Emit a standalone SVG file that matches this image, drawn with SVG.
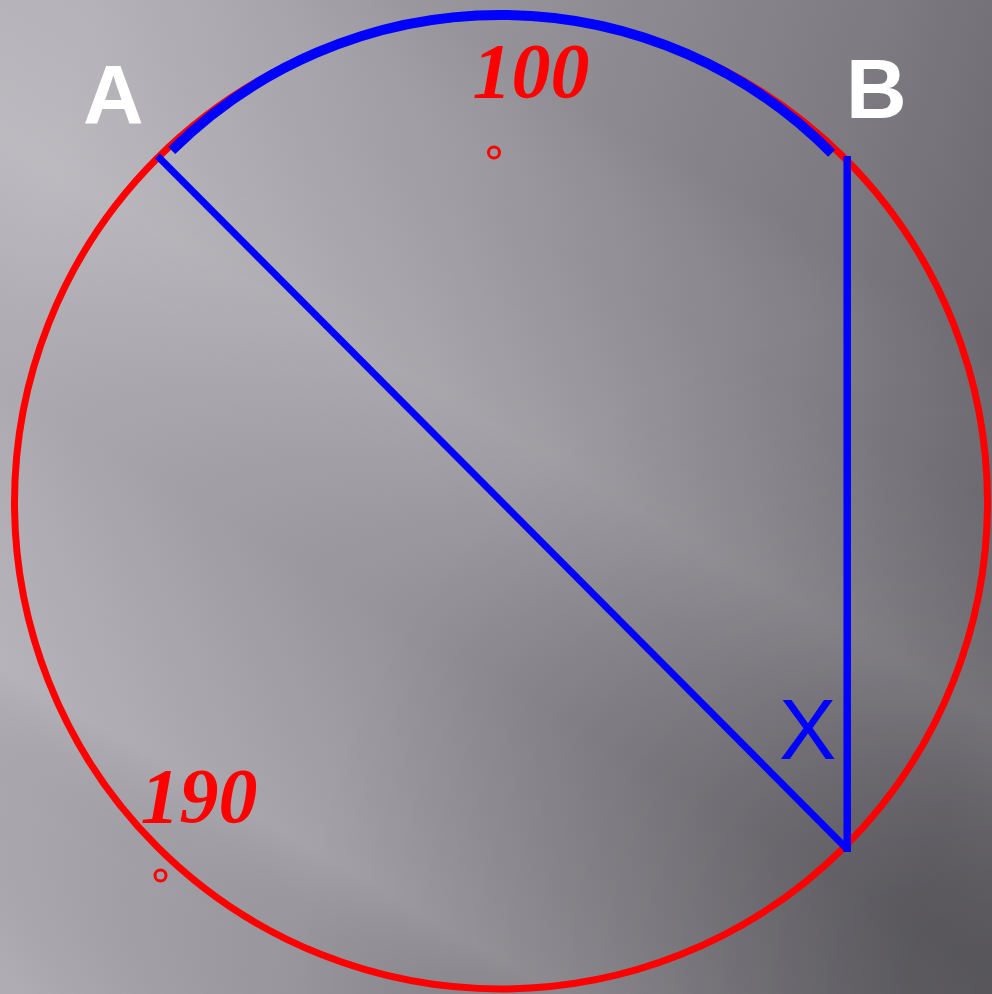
<svg xmlns="http://www.w3.org/2000/svg" width="992" height="994" viewBox="0 0 992 994">
  <defs>
    <linearGradient id="bg" gradientUnits="userSpaceOnUse" x1="0" y1="380" x2="992" y2="620">
      <stop offset="0" stop-color="#b2b0b6"/>
      <stop offset="0.4" stop-color="#9c9aa0"/>
      <stop offset="0.75" stop-color="#838187"/>
      <stop offset="1" stop-color="#6c6a70"/>
    </linearGradient>
    <radialGradient id="shade" gradientUnits="userSpaceOnUse" cx="992" cy="994" r="700">
      <stop offset="0" stop-color="#000000" stop-opacity="0.18"/>
      <stop offset="1" stop-color="#000000" stop-opacity="0"/>
    </radialGradient>
    <linearGradient id="streak" gradientUnits="userSpaceOnUse" x1="992" y1="0" x2="316" y2="1162">
      <stop offset="0" stop-color="#000000" stop-opacity="0.04"/>
      <stop offset="0.22" stop-color="#000000" stop-opacity="0.05"/>
      <stop offset="0.32" stop-color="#ffffff" stop-opacity="0.02"/>
      <stop offset="0.40" stop-color="#ffffff" stop-opacity="0.08"/>
      <stop offset="0.46" stop-color="#ffffff" stop-opacity="0.13"/>
      <stop offset="0.52" stop-color="#ffffff" stop-opacity="0.05"/>
      <stop offset="0.62" stop-color="#000000" stop-opacity="0.03"/>
      <stop offset="0.72" stop-color="#ffffff" stop-opacity="0.03"/>
      <stop offset="0.80" stop-color="#ffffff" stop-opacity="0.09"/>
      <stop offset="0.88" stop-color="#000000" stop-opacity="0.02"/>
      <stop offset="1" stop-color="#ffffff" stop-opacity="0.06"/>
    </linearGradient>
    <style>
      .red { fill: none; stroke: #ff0000; }
      .blue { fill: none; stroke: #0000ff; }
      .deg { fill: none; stroke: #ff0000; stroke-width: 3; }
      .pt { font-family: "Liberation Sans", Arial, sans-serif; font-weight: bold; font-size: 84px; fill: #ffffff; }
      .ang { font-family: "Liberation Serif", "Times New Roman", serif; font-weight: bold; font-style: italic; font-size: 78px; fill: #ff0000; }
      .x { font-family: "Liberation Sans", Arial, sans-serif; font-size: 86px; fill: #0000ff; }
    </style>
  </defs>
  <rect width="992" height="994" fill="url(#bg)"/>
  <rect width="992" height="994" fill="url(#shade)"/>
  <rect width="992" height="994" fill="url(#streak)"/>

  <g id="circle">
    <circle class="red" cx="501" cy="502.5" r="486.5" stroke-width="7"/>
  </g>

  <g id="connectors">
    <path id="arcAB" class="blue" stroke-width="10" d="M171.7,150.5 A466,466 0 0 1 831.7,153.3"/>
    <line id="chordAX" class="blue" stroke-width="7" x1="157.5" y1="156" x2="846" y2="848"/>
    <line id="chordBX" class="blue" stroke-width="7.5" x1="847.2" y1="156" x2="847.2" y2="852"/>
  </g>

  <g id="labelA"><text class="pt" x="83" y="124">A</text></g>
  <g id="labelB"><text class="pt" x="846" y="118">B</text></g>
  <g id="label100">
    <text class="ang" x="531" y="97" text-anchor="middle">100</text>
    <circle class="deg" cx="494" cy="152.5" r="5.5"/>
  </g>
  <g id="label190">
    <text class="ang" x="199" y="822" text-anchor="middle">190</text>
    <circle class="deg" cx="160.5" cy="875.5" r="5.5"/>
  </g>
  <g id="labelX"><text class="x" x="779" y="759">X</text></g>
</svg>
